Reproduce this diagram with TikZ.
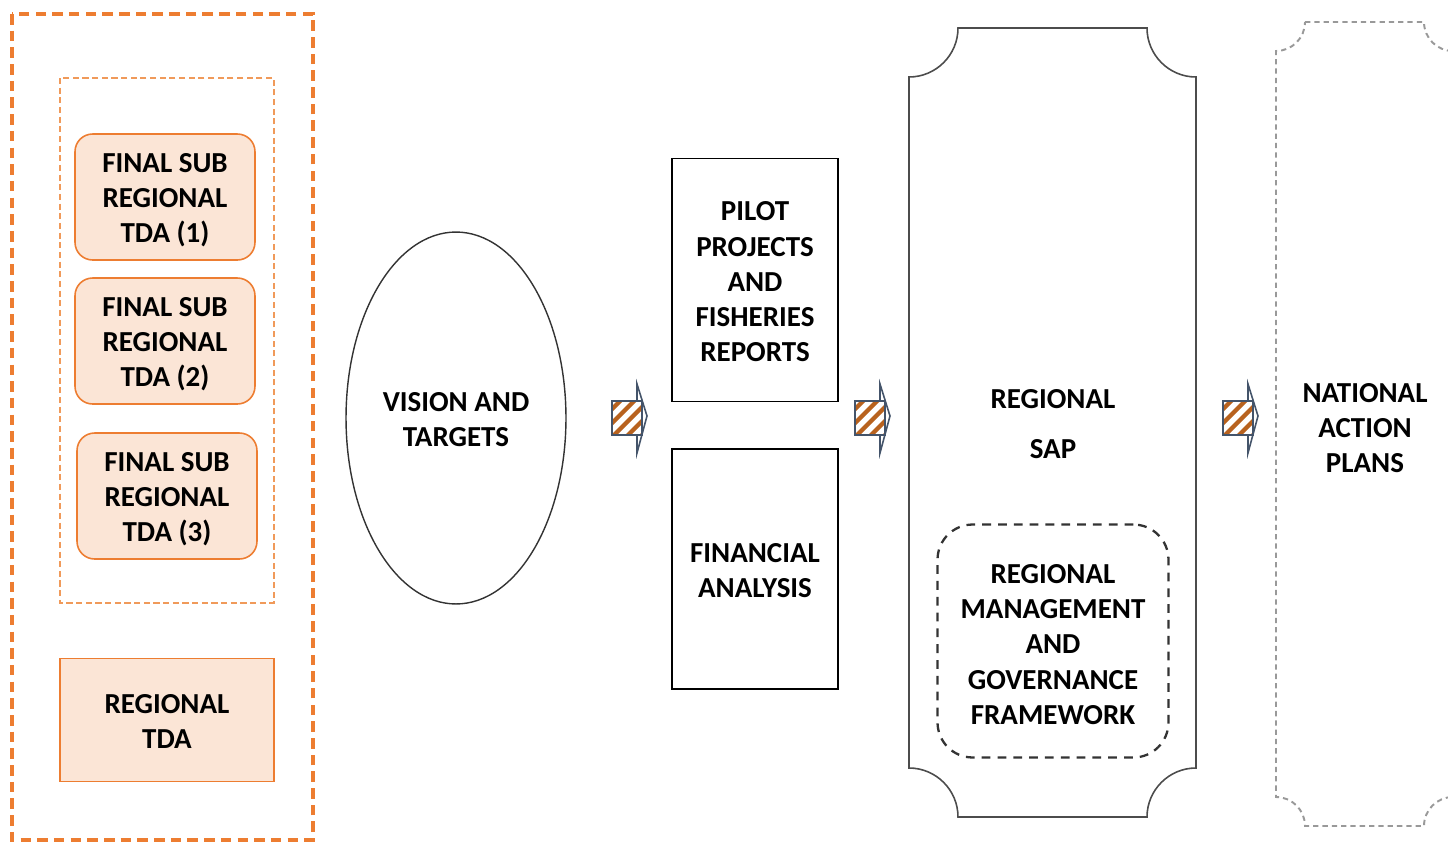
\documentclass[tikz,border=0pt]{standalone}
\usepackage{fontspec}
\setmainfont{Carlito}
\usetikzlibrary{shapes.geometric}
\definecolor{orline}{HTML}{ED7D31}
\definecolor{orlight}{HTML}{F09A5A}
\definecolor{orfill}{HTML}{FBE5D6}
\definecolor{slate}{HTML}{44546A}
\definecolor{stripe}{HTML}{B8621E}
\tikzset{>=stealth}

\begin{document}
\begin{tikzpicture}[x=0.02cm,y=-0.02cm,
    font=\bfseries\fontsize{16.5}{20}\selectfont,
    tda/.style={draw=orline,fill=orfill,rounded corners=10pt,line width=0.9pt,
      minimum width=3.6cm,minimum height=2.52cm,align=center,inner sep=0},
    blk/.style={draw,line width=0.9pt,align=center,inner sep=0},
    txt/.style={align=center,inner sep=0}]
  \useasboundingbox (0,0) rectangle (1448,842);
  \clip (0,0) rectangle (1448,842);

  % left group
  \draw[orline,line width=1.8pt,dash pattern=on 6pt off 3.5pt] (12,14) rectangle (313,840);
  \draw[orlight,line width=0.9pt,dash pattern=on 3.5pt off 2pt] (60,78) rectangle (274,603);
  \node[tda] (tda1) at (165,197) {};
  \node[tda] (tda2) at (165,341) {};
  \node[tda] (tda3) at (167,496) {};
  \foreach \n/\k in {tda1/1,tda2/2,tda3/3}
    \node[txt] at ([yshift=-2]\n) {FINAL SUB\\REGIONAL\\TDA (\k)};
  \node[draw=orline,fill=orfill,line width=0.9pt,minimum width=4.28cm,minimum height=2.46cm,
    align=center,inner sep=0] (rtda) at (167,720) {};
  \node[txt] at ([yshift=-1]rtda) {REGIONAL\\TDA};

  % vision
  \node[ellipse,draw=black!80,line width=0.8pt,minimum width=4.4cm,minimum height=7.44cm,
    inner sep=0] (vision) at (456,418) {};
  \node[txt] at ([yshift=-1]vision) {VISION AND\\TARGETS};

  % middle boxes
  \node[blk,minimum width=3.32cm,minimum height=4.86cm] (pilot) at (755,280) {};
  \node[txt] at ([yshift=-1]pilot) {PILOT\\PROJECTS\\AND\\FISHERIES\\REPORTS};
  \node[blk,minimum width=3.32cm,minimum height=4.8cm] (fin) at (755,569) {};
  \node[txt] at ([yshift=-1]fin) {FINANCIAL\\ANALYSIS};

  % regional SAP plaque
  \draw[black!70,line width=0.9pt] (958,28) -- (1147,28)
    .. controls (1147,55) and (1169,77) .. (1196,77) -- (1196,768)
    .. controls (1169,768) and (1147,790) .. (1147,817) -- (958,817)
    .. controls (958,790) and (936,768) .. (909,768) -- (909,77)
    .. controls (936,77) and (958,55) .. (958,28) -- cycle;
  \node[txt] (sap) at (1053,424) {REGIONAL\\[8pt]SAP};
  \node[draw=black!80,dash pattern=on 5pt off 4pt,line width=1.3pt,rounded corners=20pt,
    minimum width=4.62cm,minimum height=4.66cm,inner sep=0] (gov) at (1053,641) {};
  \node[txt] at ([yshift=-2]gov) {REGIONAL\\MANAGEMENT\\AND\\GOVERNANCE\\FRAMEWORK};

  % national plans plaque
  \draw[black!40,line width=1.1pt,dash pattern=on 3pt off 2.3pt] (1305,22) -- (1424,22)
    .. controls (1424,38) and (1437,51) .. (1453,51) -- (1453,797)
    .. controls (1437,797) and (1424,810) .. (1424,826) -- (1305,826)
    .. controls (1305,810) and (1292,797) .. (1276,797) -- (1276,51)
    .. controls (1292,51) and (1305,38) .. (1305,22) -- cycle;
  \node[txt] (nap) at (1365,428) {NATIONAL\\ACTION\\PLANS};

  % striped arrows
  \foreach \ax in {612,855,1223} {
    \draw[slate,fill=white,line width=0.9pt] (\ax+25,384) -- (\ax+35,416) -- (\ax+25,453) -- cycle;
    \begin{scope}
      \clip (\ax,401) rectangle (\ax+30,435);
      \fill[white] (\ax,401) rectangle (\ax+30,435);
      \foreach \s in {-50,-36,...,40}
        \draw[stripe,line width=0.085cm] (\ax+\s,445) -- ++(50,-50);
    \end{scope}
    \draw[slate,line width=0.9pt] (\ax,401) rectangle (\ax+30,435);
  }
\end{tikzpicture}
\end{document}
